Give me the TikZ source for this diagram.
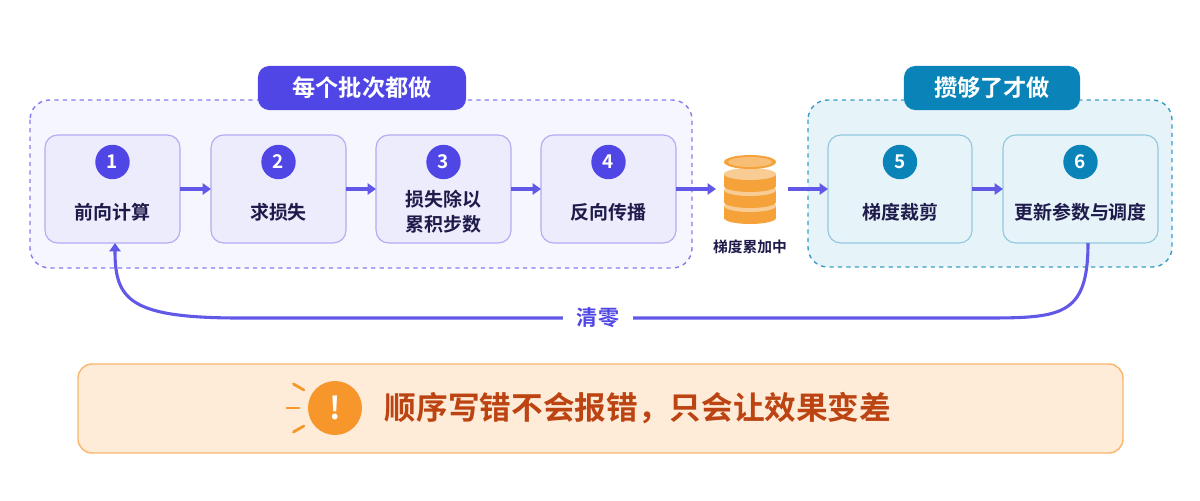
\documentclass[tikz,border=0pt]{standalone}
\usepackage{fontspec}
\setmainfont{Noto Sans CJK SC}[BoldFont={Noto Sans CJK SC Bold}]
\usetikzlibrary{positioning,arrows.meta,calc}
\definecolor{violet}{HTML}{4F46E5}
\definecolor{teal}{HTML}{0A84B8}
\definecolor{ink}{HTML}{1E1B4B}
\definecolor{coin}{HTML}{F5A23A}
\definecolor{warn}{HTML}{F7962B}
\tikzset{
  num/.style={circle, fill=#1, text=white, font=\bfseries\fontsize{13.5}{13.5}\selectfont,
    minimum size=0.86cm, inner sep=0pt},
  lbl/.style={text=ink, font=\bfseries\fontsize{13.5}{18}\selectfont, align=center},
  flow/.style={-{Triangle[length=6pt,width=8pt]}, violet!90, line width=2.2pt},
  pill/.style={fill=#1, text=white, rounded corners=8pt, font=\bfseries\fontsize{16.5}{16.5}\selectfont,
    minimum width=5.2cm, minimum height=1.1cm},
}
\begin{document}
\begin{tikzpicture}[x=0.025cm,y=-0.025cm]
\useasboundingbox (0,0) rectangle (1200,500);
% group frames
\draw[violet!70, dashed, line width=1pt, fill=violet!5, rounded corners=14pt] (30,100) rectangle (692,268);
\draw[teal!80, dashed, line width=1pt, fill=teal!10, rounded corners=14pt] (808,100) rectangle (1172,267);
\node[pill=violet] (each) at (362,88) {每个批次都做};
\node[pill=teal, minimum width=4.4cm] (enough) at (992,88) {攒够了才做};
% steps
\foreach \n/\xa/\xb/\txt/\c in {1/45/180/前向计算/violet, 2/211/346/求损失/violet,
  3/376/511/{损失除以\\累积步数}/violet, 4/541/676/反向传播/violet,
  5/828/972/梯度裁剪/teal, 6/1003/1158/更新参数与调度/teal}{
  \draw[draw=\c!45, fill=\c!10, rounded corners=9pt, line width=0.8pt] (\xa,135) rectangle (\xb,243);
  \coordinate (s\n) at ({(\xa+\xb)/2},189);
  \coordinate (s\n w) at (\xa,189);
  \coordinate (s\n e) at (\xb,189);
  \node[num=\c] (c\n) at ({(\xa+\xb)/2},162) {\n};
  \node[lbl] (t\n) at ({(\xa+\xb)/2},212) {\txt};
}
% coin stack
\foreach \y in {206,190,174}{
  \fill[coin] (724,\y) rectangle (776,\y+12);
  \fill[coin] (750,\y+12) ellipse (26 and 6);
  \fill[coin!55] (750,\y) ellipse (26 and 6);
}
\fill[coin] (750,162) ellipse (26 and 7);
\fill[coin!70] (750,162) ellipse (22 and 5);
\coordinate (coinw) at (716,189);
\coordinate (coine) at (788,189);
\node[lbl, font=\bfseries\fontsize{10.5}{10.5}\selectfont] (acc) at (750,247) {梯度累加中};
% arrows
\draw[flow] (s1e) -- (s2w);
\draw[flow] (s2e) -- (s3w);
\draw[flow] (s3e) -- (s4w);
\draw[flow] (s4e) -- (coinw);
\draw[flow] (coine) -- (s5w);
\draw[flow] (s5e) -- (s6w);
% reset loop
\coordinate (from) at (1088,243);
\coordinate (to) at (115,243);
\draw[flow] (from) .. controls (1088,318) and (1060,318) .. (980,318)
  -- (240,318) .. controls (130,318) and (115,300) .. (to);
\node[fill=white, text=violet, font=\bfseries\fontsize{15}{15}\selectfont, inner xsep=10pt] (zero) at (598,318) {清零};
% warning
\draw[draw=warn!70, fill=warn!18, rounded corners=10pt, line width=1pt] (78,364) rectangle (1123,453);
\node[circle, fill=warn, minimum size=1.35cm, text=white, font=\bfseries\fontsize{22}{22}\selectfont] (icon) at (335,408) {!};
\foreach \a in {150,180,210}
  \draw[warn, line width=2pt, line cap=round] ($(icon)+(\a:36)$) -- ($(icon)+(\a:48)$);
\node[anchor=west, text=warn!60!red!75!black, font=\bfseries\fontsize{22.5}{22.5}\selectfont] (msg) at (380,408) {顺序写错不会报错，只会让效果变差};
\end{tikzpicture}
\end{document}
